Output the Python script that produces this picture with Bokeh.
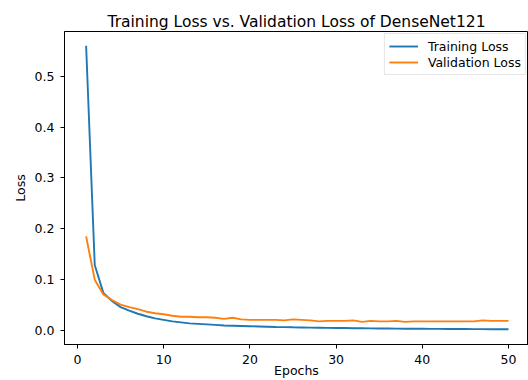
from bokeh.plotting import figure
from bokeh.models import FixedTicker, Range1d, Legend, LegendItem, PrintfTickFormatter
from bokeh.embed import file_html
from bokeh.resources import INLINE

epochs = list(range(1, 51))
train_loss = [0.560, 0.129, 0.074, 0.058, 0.046, 0.039, 0.033, 0.028, 0.024, 0.021,
              0.018, 0.016, 0.014, 0.013, 0.012, 0.011, 0.010, 0.0095, 0.009, 0.0085,
              0.008, 0.0075, 0.007, 0.0067, 0.0063, 0.006, 0.0057, 0.0055, 0.0052, 0.005,
              0.0048, 0.0046, 0.0044, 0.0042, 0.004, 0.0039, 0.0037, 0.0036, 0.0035, 0.0034,
              0.0033, 0.0032, 0.0031, 0.003, 0.0029, 0.0028, 0.0027, 0.0026, 0.0025, 0.0024]
val_loss = [0.185, 0.100, 0.071, 0.060, 0.051, 0.046, 0.042, 0.037, 0.034, 0.032,
            0.029, 0.027, 0.027, 0.026, 0.026, 0.025, 0.023, 0.025, 0.022, 0.021,
            0.021, 0.021, 0.021, 0.020, 0.022, 0.021, 0.020, 0.018, 0.019, 0.019,
            0.019, 0.020, 0.017, 0.019, 0.018, 0.018, 0.019, 0.017, 0.018, 0.018,
            0.018, 0.018, 0.018, 0.018, 0.018, 0.018, 0.020, 0.019, 0.019, 0.019]
x_ticks = [0, 10, 20, 30, 40, 50]
y_ticks = [0.0, 0.1, 0.2, 0.3, 0.4, 0.5]

FONT = "DejaVu Sans"
TICK_PX = "12.5px"

p = figure(width=528, height=380, output_backend="svg", toolbar_location=None,
           x_range=Range1d(-1.508, 52.32), y_range=Range1d(-0.0275, 0.588),
           min_border_left=64, min_border_right=0, min_border_top=31, min_border_bottom=35,
           title="Training Loss vs. Validation Loss of DenseNet121")
p.title.text_font = FONT
p.title.text_font_size = "15.5px"
p.title.text_font_style = "normal"
p.title.align = "center"
p.title.text_color = "black"
p.title.standoff = 2

r1 = p.line(epochs, train_loss, line_color="#1f77b4", line_width=1.9)
r2 = p.line(epochs, val_loss, line_color="#ff7f0e", line_width=1.9)

legend = Legend(items=[LegendItem(label="Training Loss", renderers=[r1]),
                       LegendItem(label="Validation Loss", renderers=[r2])],
                location="top_right")
legend.label_text_font = FONT
legend.label_text_font_size = TICK_PX
legend.label_text_color = "black"
legend.border_line_color = "#cccccc"
legend.border_line_width = 1
legend.glyph_width = 29
legend.glyph_height = 16
legend.label_height = 16
legend.spacing = 0
legend.padding = 4
legend.margin = 2
legend.label_standoff = 10
p.add_layout(legend)

p.xgrid.visible = False
p.ygrid.visible = False
p.outline_line_color = "black"
p.outline_line_width = 1

for ax in (p.xaxis[0], p.yaxis[0]):
    ax.major_tick_in = 0
    ax.major_tick_out = 4
    ax.minor_tick_line_color = None
    ax.major_label_text_font = FONT
    ax.major_label_text_font_size = TICK_PX
    ax.major_label_text_color = "black"
    ax.axis_label_text_font = FONT
    ax.axis_label_text_font_size = TICK_PX
    ax.axis_label_text_font_style = "normal"
    ax.axis_label_text_color = "black"
    ax.axis_line_color = "black"
    ax.major_tick_line_color = "black"

p.xaxis.ticker = FixedTicker(ticks=x_ticks)
p.yaxis.ticker = FixedTicker(ticks=y_ticks)
p.yaxis.formatter = PrintfTickFormatter(format="%.1f")
p.xaxis.axis_label = "Epochs"
p.yaxis.axis_label = "Loss"
p.xaxis.major_label_standoff = 6
p.xaxis.axis_label_standoff = -4
p.yaxis.major_label_standoff = 6
p.yaxis.axis_label_standoff = 4

open("out.html", "w").write(file_html(p, INLINE))
